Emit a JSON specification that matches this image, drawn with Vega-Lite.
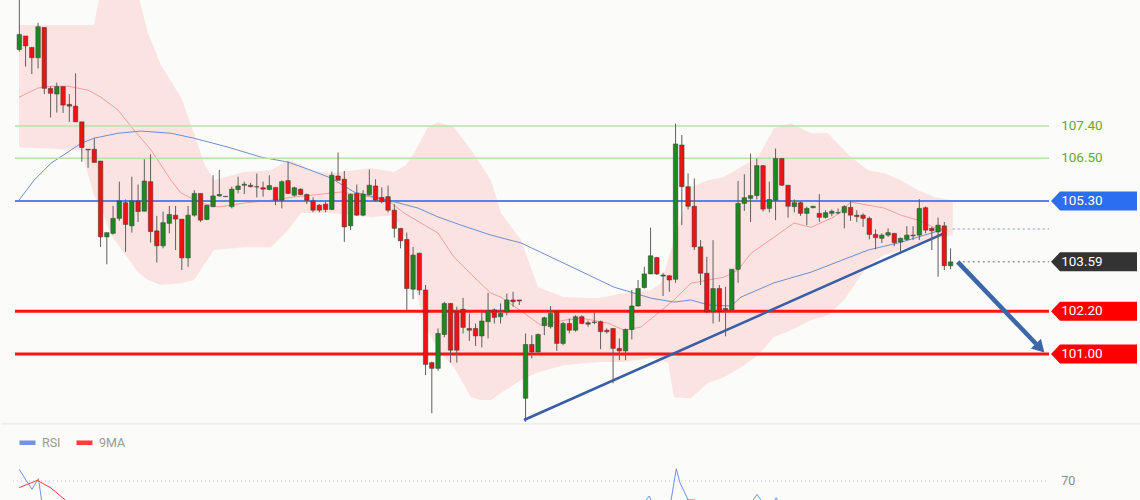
{
  "$schema": "https://vega.github.io/schema/vega-lite/v6.json",
  "background": "#fbfbf9",
  "padding": 0,
  "spacing": 0,
  "config": {"view": {"stroke": null}, "font": "Roboto", "axis": {"disable": true}},
  "resolve": {"scale": {"x": "independent", "y": "independent", "color": "independent"}},
  "datasets": {
    "candles": [
      {"i":1,"o":109.55,"h":110.94,"l":109.49,"c":109.97},
      {"i":2,"o":109.93,"h":109.93,"l":109.07,"c":109.65},
      {"i":3,"o":109.61,"h":109.61,"l":108.86,"c":109.32},
      {"i":4,"o":109.32,"h":110.30,"l":109.02,"c":110.19},
      {"i":5,"o":110.17,"h":110.17,"l":108.30,"c":108.46},
      {"i":6,"o":108.46,"h":108.52,"l":107.64,"c":108.32},
      {"i":7,"o":108.30,"h":108.62,"l":107.78,"c":108.51},
      {"i":8,"o":108.51,"h":108.51,"l":107.77,"c":107.99},
      {"i":9,"o":108.01,"h":108.30,"l":107.52,"c":107.96},
      {"i":10,"o":107.96,"h":108.88,"l":107.52,"c":107.52},
      {"i":11,"o":107.52,"h":107.52,"l":106.40,"c":106.80},
      {"i":12,"o":106.75,"h":106.76,"l":106.23,"c":106.73},
      {"i":13,"o":106.75,"h":107.05,"l":106.38,"c":106.38},
      {"i":14,"o":106.42,"h":106.42,"l":104.01,"c":104.29},
      {"i":15,"o":104.29,"h":104.41,"l":103.52,"c":104.41},
      {"i":16,"o":104.39,"h":105.16,"l":104.36,"c":104.81},
      {"i":17,"o":104.81,"h":105.84,"l":104.74,"c":105.30},
      {"i":18,"o":105.25,"h":105.34,"l":103.87,"c":104.64},
      {"i":19,"o":104.60,"h":105.98,"l":104.41,"c":105.30},
      {"i":20,"o":105.30,"h":105.76,"l":104.71,"c":105.00},
      {"i":21,"o":105.01,"h":106.47,"l":105.01,"c":105.86},
      {"i":22,"o":105.84,"h":106.61,"l":104.13,"c":104.44},
      {"i":23,"o":104.46,"h":104.88,"l":103.57,"c":104.04},
      {"i":24,"o":104.04,"h":105.00,"l":103.97,"c":104.69},
      {"i":25,"o":104.67,"h":105.16,"l":104.39,"c":104.92},
      {"i":26,"o":104.90,"h":105.16,"l":103.92,"c":104.79},
      {"i":27,"o":104.79,"h":104.79,"l":103.36,"c":103.70},
      {"i":28,"o":103.70,"h":105.16,"l":103.45,"c":104.90},
      {"i":29,"o":104.90,"h":105.60,"l":104.86,"c":105.51},
      {"i":30,"o":105.51,"h":105.51,"l":104.71,"c":104.76},
      {"i":31,"o":104.78,"h":105.18,"l":104.76,"c":105.18},
      {"i":32,"o":105.14,"h":106.02,"l":105.12,"c":105.44},
      {"i":33,"o":105.44,"h":106.17,"l":105.42,"c":105.48},
      {"i":34,"o":105.42,"h":105.44,"l":105.42,"c":105.43},
      {"i":35,"o":105.14,"h":105.70,"l":105.09,"c":105.63},
      {"i":36,"o":105.62,"h":105.98,"l":105.51,"c":105.72},
      {"i":37,"o":105.74,"h":105.84,"l":105.49,"c":105.77},
      {"i":38,"o":105.74,"h":105.81,"l":105.68,"c":105.70},
      {"i":39,"o":105.70,"h":106.07,"l":105.40,"c":105.69},
      {"i":40,"o":105.67,"h":105.84,"l":105.42,"c":105.63},
      {"i":41,"o":105.62,"h":106.02,"l":105.60,"c":105.73},
      {"i":42,"o":105.68,"h":105.68,"l":105.18,"c":105.32},
      {"i":43,"o":105.32,"h":105.88,"l":105.09,"c":105.84},
      {"i":44,"o":105.87,"h":106.40,"l":105.49,"c":105.51},
      {"i":45,"o":105.46,"h":105.70,"l":105.42,"c":105.67},
      {"i":46,"o":105.63,"h":105.65,"l":105.46,"c":105.48},
      {"i":47,"o":105.48,"h":105.51,"l":105.21,"c":105.32},
      {"i":48,"o":105.30,"h":105.40,"l":104.98,"c":105.04},
      {"i":49,"o":105.18,"h":105.21,"l":104.98,"c":105.04},
      {"i":50,"o":105.21,"h":105.28,"l":104.98,"c":105.06},
      {"i":51,"o":105.06,"h":106.12,"l":105.04,"c":106.02},
      {"i":52,"o":106.00,"h":106.66,"l":105.87,"c":105.88},
      {"i":53,"o":105.91,"h":106.14,"l":104.15,"c":104.57},
      {"i":54,"o":104.60,"h":105.51,"l":104.48,"c":105.48},
      {"i":55,"o":105.51,"h":105.76,"l":104.88,"c":104.90},
      {"i":56,"o":104.90,"h":105.60,"l":104.87,"c":105.49},
      {"i":57,"o":105.48,"h":106.18,"l":105.46,"c":105.74},
      {"i":58,"o":105.72,"h":105.91,"l":105.28,"c":105.32},
      {"i":59,"o":105.40,"h":105.68,"l":105.23,"c":105.28},
      {"i":60,"o":105.42,"h":105.73,"l":104.98,"c":105.04},
      {"i":61,"o":105.04,"h":105.21,"l":104.27,"c":104.53},
      {"i":62,"o":104.53,"h":104.53,"l":103.97,"c":104.18},
      {"i":63,"o":104.22,"h":104.41,"l":102.24,"c":102.84},
      {"i":64,"o":102.82,"h":104.01,"l":102.54,"c":103.78},
      {"i":65,"o":103.83,"h":103.85,"l":102.66,"c":102.80},
      {"i":66,"o":102.80,"h":102.94,"l":100.41,"c":100.71},
      {"i":67,"o":100.76,"h":100.79,"l":99.34,"c":100.60},
      {"i":68,"o":100.60,"h":101.72,"l":100.53,"c":101.58},
      {"i":69,"o":101.55,"h":102.47,"l":101.47,"c":102.42},
      {"i":70,"o":102.42,"h":102.44,"l":100.76,"c":101.11},
      {"i":71,"o":102.19,"h":102.33,"l":100.76,"c":101.11},
      {"i":72,"o":102.26,"h":102.58,"l":101.58,"c":101.75},
      {"i":73,"o":101.72,"h":102.14,"l":101.37,"c":101.67},
      {"i":74,"o":101.72,"h":101.86,"l":101.23,"c":101.51},
      {"i":75,"o":101.51,"h":102.19,"l":101.19,"c":101.93},
      {"i":76,"o":101.91,"h":102.72,"l":101.44,"c":102.22},
      {"i":77,"o":102.24,"h":102.28,"l":101.86,"c":102.03},
      {"i":78,"o":102.05,"h":102.42,"l":101.86,"c":102.14},
      {"i":79,"o":102.19,"h":102.70,"l":102.09,"c":102.52},
      {"i":80,"o":102.52,"h":102.75,"l":102.33,"c":102.47},
      {"i":81,"o":102.52,"h":102.52,"l":102.38,"c":102.49},
      {"i":82,"o":99.76,"h":101.58,"l":99.10,"c":101.27},
      {"i":83,"o":101.27,"h":101.53,"l":100.88,"c":101.06},
      {"i":84,"o":101.06,"h":101.58,"l":101.04,"c":101.55},
      {"i":85,"o":101.80,"h":102.05,"l":101.53,"c":102.02},
      {"i":86,"o":101.77,"h":102.35,"l":101.72,"c":102.14},
      {"i":87,"o":102.19,"h":102.24,"l":101.09,"c":101.30},
      {"i":88,"o":101.30,"h":101.91,"l":101.25,"c":101.86},
      {"i":89,"o":101.86,"h":102.00,"l":101.58,"c":101.67},
      {"i":90,"o":101.67,"h":102.09,"l":101.63,"c":102.05},
      {"i":91,"o":102.05,"h":102.09,"l":101.84,"c":101.86},
      {"i":92,"o":101.88,"h":101.94,"l":101.77,"c":101.84},
      {"i":93,"o":101.89,"h":102.17,"l":101.84,"c":101.90},
      {"i":94,"o":101.91,"h":101.94,"l":101.14,"c":101.63},
      {"i":95,"o":101.67,"h":101.72,"l":101.58,"c":101.63},
      {"i":96,"o":101.72,"h":101.72,"l":100.18,"c":101.16},
      {"i":97,"o":101.16,"h":101.44,"l":100.83,"c":101.09},
      {"i":98,"o":101.09,"h":101.72,"l":100.83,"c":101.69},
      {"i":99,"o":101.69,"h":102.80,"l":101.41,"c":102.35},
      {"i":100,"o":102.35,"h":103.08,"l":102.33,"c":102.84},
      {"i":101,"o":102.87,"h":103.45,"l":102.84,"c":103.25},
      {"i":102,"o":103.25,"h":104.55,"l":103.25,"c":103.76},
      {"i":103,"o":103.71,"h":103.73,"l":103.22,"c":103.25},
      {"i":104,"o":103.22,"h":103.28,"l":102.63,"c":103.19},
      {"i":105,"o":103.20,"h":103.22,"l":102.75,"c":103.08},
      {"i":106,"o":103.10,"h":107.47,"l":103.00,"c":106.90},
      {"i":107,"o":106.87,"h":107.15,"l":104.62,"c":105.70},
      {"i":108,"o":105.70,"h":106.07,"l":105.06,"c":105.15},
      {"i":109,"o":105.15,"h":105.93,"l":103.92,"c":104.01},
      {"i":110,"o":104.01,"h":104.20,"l":102.94,"c":103.27},
      {"i":111,"o":103.27,"h":103.73,"l":102.14,"c":102.19},
      {"i":112,"o":102.19,"h":104.20,"l":101.86,"c":102.84},
      {"i":113,"o":102.84,"h":102.94,"l":101.91,"c":102.19},
      {"i":114,"o":102.28,"h":102.89,"l":101.50,"c":102.24},
      {"i":115,"o":102.24,"h":103.38,"l":102.24,"c":103.38},
      {"i":116,"o":103.38,"h":105.86,"l":103.00,"c":105.23},
      {"i":117,"o":105.23,"h":106.05,"l":105.02,"c":105.39},
      {"i":118,"o":105.37,"h":106.63,"l":104.71,"c":105.45},
      {"i":119,"o":105.45,"h":106.49,"l":105.34,"c":106.29},
      {"i":120,"o":106.29,"h":106.31,"l":105.00,"c":105.07},
      {"i":121,"o":105.09,"h":105.84,"l":104.98,"c":105.34},
      {"i":122,"o":105.32,"h":106.77,"l":104.76,"c":106.49},
      {"i":123,"o":106.49,"h":106.49,"l":105.72,"c":105.74},
      {"i":124,"o":105.74,"h":105.74,"l":104.83,"c":105.15},
      {"i":125,"o":105.14,"h":105.34,"l":104.98,"c":105.25},
      {"i":126,"o":105.25,"h":105.28,"l":104.88,"c":104.95},
      {"i":127,"o":104.95,"h":105.14,"l":104.62,"c":105.09},
      {"i":128,"o":105.11,"h":105.16,"l":105.09,"c":105.15},
      {"i":129,"o":104.95,"h":105.49,"l":104.71,"c":104.84},
      {"i":130,"o":104.84,"h":105.04,"l":104.81,"c":104.97},
      {"i":131,"o":104.95,"h":105.06,"l":104.87,"c":105.01},
      {"i":132,"o":104.96,"h":105.09,"l":104.92,"c":104.97},
      {"i":133,"o":104.97,"h":105.18,"l":104.53,"c":105.14},
      {"i":134,"o":105.12,"h":105.30,"l":104.74,"c":104.90},
      {"i":135,"o":104.90,"h":105.04,"l":104.71,"c":104.86},
      {"i":136,"o":104.90,"h":104.95,"l":104.57,"c":104.81},
      {"i":137,"o":104.81,"h":104.86,"l":104.22,"c":104.36},
      {"i":138,"o":104.36,"h":104.50,"l":103.94,"c":104.27},
      {"i":139,"o":104.25,"h":104.39,"l":104.12,"c":104.34},
      {"i":140,"o":104.34,"h":104.53,"l":104.29,"c":104.41},
      {"i":141,"o":104.39,"h":104.39,"l":104.03,"c":104.13},
      {"i":142,"o":104.15,"h":104.27,"l":103.87,"c":104.25},
      {"i":143,"o":104.22,"h":104.59,"l":104.18,"c":104.34},
      {"i":144,"o":104.32,"h":104.59,"l":104.20,"c":104.34},
      {"i":145,"o":104.34,"h":105.35,"l":104.20,"c":105.09},
      {"i":146,"o":105.11,"h":105.14,"l":104.39,"c":104.48},
      {"i":147,"o":104.53,"h":104.57,"l":103.92,"c":104.46},
      {"i":148,"o":104.43,"h":104.83,"l":103.17,"c":104.62},
      {"i":149,"o":104.60,"h":104.71,"l":103.36,"c":103.48},
      {"i":150,"o":103.48,"h":103.97,"l":103.38,"c":103.59}
    ],
    "band": [
      {"i":0.95,"up":110.24,"lo":106.81},{"i":10.87,"up":110.24,"lo":106.73},{"i":12.95,"up":110.24,"lo":105.46},{"i":13.91,"up":111.08,"lo":105.18},
      {"i":15.67,"up":111.08,"lo":104.34},{"i":19.99,"up":111.08,"lo":103.30},{"i":21.59,"up":110.01,"lo":103.08},{"i":23.67,"up":109.11,"lo":102.94},
      {"i":26.87,"up":108.21,"lo":102.99},{"i":28.95,"up":107.20,"lo":103.08},{"i":30.55,"up":106.36,"lo":103.50},{"i":32.15,"up":105.88,"lo":103.92},
      {"i":36.95,"up":106.11,"lo":104.00},{"i":41.27,"up":106.16,"lo":104.00},{"i":43.99,"up":106.45,"lo":104.48},{"i":46.07,"up":106.31,"lo":104.96},
      {"i":47.67,"up":106.16,"lo":104.96},{"i":50.87,"up":106.08,"lo":104.96},{"i":57.27,"up":106.22,"lo":104.85},{"i":60.95,"up":106.11,"lo":104.90},
      {"i":62.87,"up":106.31,"lo":104.20},{"i":64.15,"up":106.64,"lo":103.08},{"i":65.27,"up":107.01,"lo":102.24},{"i":66.39,"up":107.37,"lo":101.67},
      {"i":67.99,"up":107.51,"lo":101.11},{"i":70.55,"up":107.37,"lo":100.63},{"i":73.27,"up":106.73,"lo":99.79},{"i":74.87,"up":106.31,"lo":99.71},
      {"i":76.47,"up":105.88,"lo":99.71},{"i":78.07,"up":104.96,"lo":99.91},{"i":81.27,"up":104.20,"lo":100.27},{"i":83.99,"up":102.88,"lo":100.49},
      {"i":88.15,"up":102.60,"lo":100.69},{"i":93.59,"up":102.57,"lo":100.78},{"i":97.75,"up":102.71,"lo":100.78},{"i":102.07,"up":102.80,"lo":100.89},
      {"i":103.67,"up":102.99,"lo":100.83},{"i":104.79,"up":103.64,"lo":100.75},{"i":105.75,"up":104.20,"lo":99.79},{"i":108.47,"up":105.69,"lo":99.76},
      {"i":111.19,"up":105.88,"lo":100.19},{"i":113.75,"up":105.97,"lo":100.35},{"i":116.47,"up":106.25,"lo":100.63},{"i":119.19,"up":106.53,"lo":100.97},
      {"i":121.75,"up":107.34,"lo":101.48},{"i":124.47,"up":107.48,"lo":101.67},{"i":127.67,"up":107.20,"lo":101.95},{"i":130.39,"up":107.20,"lo":102.09},
      {"i":132.95,"up":106.73,"lo":102.52},{"i":134.07,"up":106.53,"lo":102.80},{"i":136.79,"up":106.16,"lo":103.50},{"i":139.35,"up":106.08,"lo":103.78},
      {"i":142.07,"up":105.88,"lo":103.92},{"i":144.79,"up":105.60,"lo":104.06},{"i":147.35,"up":105.41,"lo":104.20},{"i":150.35,"up":105.32,"lo":104.34}
    ],
    "mid": [
      {"i":0.95,"m":108.21},{"i":3.99,"m":108.47},{"i":6.07,"m":108.52},{"i":8.79,"m":108.52},{"i":11.99,"m":108.41},{"i":14.07,"m":108.21},
      {"i":16.79,"m":107.85},{"i":19.35,"m":107.29},{"i":22.07,"m":106.73},{"i":25.27,"m":105.88},{"i":26.87,"m":105.52},{"i":30.07,"m":105.24},
      {"i":32.95,"m":105.13},{"i":36.95,"m":105.24},{"i":41.27,"m":105.32},{"i":44.95,"m":105.41},{"i":50.87,"m":105.52},{"i":52.47,"m":105.55},
      {"i":57.27,"m":105.41},{"i":59.99,"m":105.32},{"i":62.55,"m":104.96},{"i":65.27,"m":104.68},{"i":67.99,"m":104.40},{"i":70.55,"m":103.72},
      {"i":73.75,"m":103.16},{"i":76.47,"m":102.71},{"i":78.07,"m":102.60},{"i":81.75,"m":102.15},{"i":84.47,"m":101.81},{"i":88.15,"m":101.95},
      {"i":90.87,"m":102.01},{"i":95.19,"m":101.87},{"i":97.75,"m":101.67},{"i":100.47,"m":101.76},{"i":103.19,"m":102.15},{"i":105.75,"m":102.52},
      {"i":108.47,"m":102.99},{"i":113.75,"m":103.16},{"i":115.99,"m":103.36},{"i":118.07,"m":103.83},{"i":121.75,"m":104.28},{"i":124.95,"m":104.68},
      {"i":127.67,"m":104.56},{"i":131.35,"m":104.85},{"i":134.07,"m":105.27},{"i":136.79,"m":105.18},{"i":139.35,"m":105.10},{"i":142.07,"m":104.90},
      {"i":144.79,"m":104.76},{"i":147.35,"m":104.56},{"i":149.59,"m":104.48}
    ],
    "ma": [
      {"i":0.95,"v":105.32},{"i":3.35,"v":105.88},{"i":6.07,"v":106.36},{"i":8.79,"v":106.67},{"i":10.87,"v":106.92},{"i":12.95,"v":107.06},
      {"i":16.79,"v":107.20},{"i":20.47,"v":107.26},{"i":25.27,"v":107.20},{"i":28.95,"v":107.06},{"i":34.39,"v":106.81},{"i":39.67,"v":106.53},
      {"i":43.99,"v":106.39},{"i":47.67,"v":106.16},{"i":50.87,"v":105.94},{"i":54.55,"v":105.55},{"i":59.99,"v":105.32},{"i":64.79,"v":105.10},
      {"i":67.99,"v":104.85},{"i":71.67,"v":104.62},{"i":76.47,"v":104.34},{"i":81.27,"v":104.12},{"i":88.15,"v":103.55},{"i":96.15,"v":102.88},
      {"i":102.07,"v":102.57},{"i":105.75,"v":102.46},{"i":108.47,"v":102.52},{"i":111.19,"v":102.38},{"i":114.87,"v":102.35},{"i":116.47,"v":102.60},
      {"i":121.75,"v":103.00},{"i":127.67,"v":103.30},{"i":131.35,"v":103.55},{"i":136.79,"v":103.92},{"i":142.07,"v":104.14},{"i":147.35,"v":104.42},
      {"i":148.95,"v":104.51}
    ],
    "trend": [{"i":81.75,"p":99.15},{"i":149.3,"p":104.42}],
    "arrow": [{"i":151.14,"p":103.59},{"i":163.67,"p":101.29}],
    "arrowhead": [{"i":164.33,"p":101.17}],
    "levels": [
      {"level":107.40,"kind":"target"},
      {"level":106.50,"kind":"target"},
      {"level":105.30,"kind":"pivot"},
      {"level":103.59,"kind":"last"},
      {"level":102.20,"kind":"support"},
      {"level":101.00,"kind":"support"}
    ],
    "rsi": [
      {"i":0.98,"s":"RSI","v":84.0},{"i":3.02,"s":"RSI","v":60.0},{"i":4.06,"s":"RSI","v":72.8},{"i":4.58,"s":"RSI","v":46},{"i":5.11,"s":"RSI","v":22},
      {"i":14.07,"s":"RSI","v":35},{"i":46.07,"s":"RSI","v":40},{"i":78.07,"s":"RSI","v":38},{"i":100.47,"s":"RSI","v":34},{"i":101.18,"s":"RSI","v":46},
      {"i":101.77,"s":"RSI","v":52},{"i":102.17,"s":"RSI","v":46},{"i":102.87,"s":"RSI","v":36},{"i":104.47,"s":"RSI","v":38},{"i":105.26,"s":"RSI","v":46},
      {"i":106.12,"s":"RSI","v":84.8},{"i":106.70,"s":"RSI","v":68},{"i":107.87,"s":"RSI","v":49.6},{"i":108.47,"s":"RSI","v":40},{"i":117.27,"s":"RSI","v":38},
      {"i":118.33,"s":"RSI","v":46},{"i":119.02,"s":"RSI","v":54},{"i":119.77,"s":"RSI","v":46},{"i":120.63,"s":"RSI","v":40},{"i":121.8,"s":"RSI","v":46},
      {"i":122.1,"s":"RSI","v":50},{"i":122.39,"s":"RSI","v":46},{"i":123.19,"s":"RSI","v":38},{"i":142.07,"s":"RSI","v":38},{"i":150.07,"s":"RSI","v":35},
      {"i":0.98,"s":"9MA","v":62},{"i":3.88,"s":"9MA","v":70.8},{"i":6.07,"s":"9MA","v":61.6},{"i":8.54,"s":"9MA","v":46},{"i":10.07,"s":"9MA","v":28},
      {"i":40,"s":"9MA","v":35},{"i":80,"s":"9MA","v":36},{"i":104.0,"s":"9MA","v":37},{"i":106.87,"s":"9MA","v":40},{"i":107.87,"s":"9MA","v":47.2},
      {"i":109.03,"s":"9MA","v":47.2},{"i":110.07,"s":"9MA","v":40},{"i":130,"s":"9MA","v":40},{"i":150.07,"s":"9MA","v":38}
    ]
  },
  "vconcat": [
    {
      "width": 1140,
      "height": 425,
      "layer": [
        {
          "data": {"name": "band"},
          "mark": {"type": "area", "fill": "#fbcfcf", "fillOpacity": 0.55, "clip": true},
          "encoding": {
            "x": {"field": "i", "type": "quantitative", "scale": {"domain": [-1.93, 180.47], "nice": false, "zero": false, "padding": 0}, "axis": null},
            "y": {"field": "up", "type": "quantitative", "scale": {"domain": [99.01, 110.94], "nice": false, "zero": false, "padding": 0}, "axis": null},
            "y2": {"field": "lo"}
          }
        },
        {
          "data": {"name": "mid"},
          "mark": {"type": "line", "color": "#f2a0a0", "strokeWidth": 1, "clip": true},
          "encoding": {
            "x": {"field": "i", "type": "quantitative"},
            "y": {"field": "m", "type": "quantitative"}
          }
        },
        {
          "data": {"name": "ma"},
          "mark": {"type": "line", "color": "#6f8fcf", "strokeWidth": 1, "clip": true},
          "encoding": {
            "x": {"field": "i", "type": "quantitative"},
            "y": {"field": "v", "type": "quantitative"}
          }
        },
        {
          "data": {"name": "levels"},
          "transform": [{"filter": "datum.kind === 'target'"}],
          "mark": {"type": "rule", "color": "#bddfab", "strokeWidth": 1.5},
          "encoding": {
            "x": {"datum": 0.31, "type": "quantitative"},
            "x2": {"datum": 165.75},
            "y": {"field": "level", "type": "quantitative"}
          }
        },
        {
          "data": {"name": "levels"},
          "transform": [{"filter": "datum.kind === 'pivot'"}],
          "mark": {"type": "rule", "color": "#5484ee", "strokeWidth": 2},
          "encoding": {
            "x": {"datum": 0.31, "type": "quantitative"},
            "x2": {"datum": 165.75},
            "y": {"field": "level", "type": "quantitative"}
          }
        },
        {
          "data": {"name": "levels"},
          "transform": [{"filter": "datum.kind === 'support'"}],
          "mark": {"type": "rule", "color": "#ff1414", "strokeWidth": 3},
          "encoding": {
            "x": {"datum": 0.31, "type": "quantitative"},
            "x2": {"datum": 165.75},
            "y": {"field": "level", "type": "quantitative"}
          }
        },
        {
          "data": {"name": "levels"},
          "transform": [{"filter": "datum.kind === 'last'"}],
          "mark": {"type": "rule", "color": "#9a9a9a", "strokeWidth": 1.5, "strokeDash": [2, 3]},
          "encoding": {
            "x": {"datum": 151.95, "type": "quantitative"},
            "x2": {"datum": 165.75},
            "y": {"field": "level", "type": "quantitative"}
          }
        },
        {
          "data": {"values": [{"level": 104.51}]},
          "mark": {"type": "rule", "color": "#aab8dc", "strokeWidth": 1.5, "strokeDash": [2, 3]},
          "encoding": {
            "x": {"datum": 150.35, "type": "quantitative"},
            "x2": {"datum": 165.75},
            "y": {"field": "level", "type": "quantitative"}
          }
        },
        {
          "data": {"values": [{"level": 99.04}]},
          "mark": {"type": "rule", "color": "#e4e4e2", "strokeWidth": 1},
          "encoding": {
            "x": {"datum": -1.93, "type": "quantitative"},
            "x2": {"datum": 180.47},
            "y": {"field": "level", "type": "quantitative"}
          }
        },
        {
          "data": {"name": "trend"},
          "mark": {"type": "line", "color": "#3a5ea6", "strokeWidth": 2.5},
          "encoding": {
            "x": {"field": "i", "type": "quantitative"},
            "y": {"field": "p", "type": "quantitative"}
          }
        },
        {
          "data": {"name": "candles"},
          "mark": {"type": "rule", "color": "#5e5e5e", "strokeWidth": 1, "clip": true},
          "encoding": {
            "x": {"field": "i", "type": "quantitative"},
            "y": {"field": "l", "type": "quantitative"},
            "y2": {"field": "h"}
          }
        },
        {
          "data": {"name": "candles"},
          "mark": {"type": "bar", "size": 4.5, "stroke": "#3a3a3a", "strokeWidth": 0.5, "clip": true},
          "encoding": {
            "x": {"field": "i", "type": "quantitative"},
            "y": {"field": "o", "type": "quantitative"},
            "y2": {"field": "c"},
            "fill": {"condition": {"test": "datum.c >= datum.o", "value": "#1e881e"}, "value": "#ee1313"}
          }
        },
        {
          "data": {"name": "arrow"},
          "mark": {"type": "line", "color": "#3b67a8", "strokeWidth": 4.5, "strokeCap": "butt"},
          "encoding": {
            "x": {"field": "i", "type": "quantitative"},
            "y": {"field": "p", "type": "quantitative"}
          }
        },
        {
          "data": {"name": "arrowhead"},
          "mark": {"type": "point", "shape": "triangle-up", "angle": 136, "size": 200, "filled": true, "color": "#3b67a8", "opacity": 1},
          "encoding": {
            "x": {"field": "i", "type": "quantitative"},
            "y": {"field": "p", "type": "quantitative"}
          }
        },
        {
          "data": {"name": "levels"},
          "transform": [{"filter": "datum.kind === 'target'"}],
          "mark": {"type": "text", "align": "left", "baseline": "middle", "fontSize": 13.5, "color": "#67a83a"},
          "encoding": {
            "x": {"datum": 167.7, "type": "quantitative"},
            "y": {"field": "level", "type": "quantitative"},
            "text": {"field": "level", "type": "quantitative", "format": ".2f"}
          }
        },
        {
          "data": {"name": "levels"},
          "transform": [{"filter": "datum.kind !== 'target'"}],
          "mark": {"type": "point", "shape": "M-1,0L-0.791,-0.221L1,-0.221L1,0.221L-0.791,0.221Z", "size": 7396, "filled": true, "opacity": 1, "strokeWidth": 0},
          "encoding": {
            "x": {"datum": 172.95, "type": "quantitative"},
            "y": {"field": "level", "type": "quantitative"},
            "color": {"field": "kind", "type": "nominal", "scale": {"domain": ["pivot", "last", "support"], "range": ["#2c6ef0", "#333333", "#ff0000"]}, "legend": null}
          }
        },
        {
          "data": {"name": "levels"},
          "transform": [{"filter": "datum.kind !== 'target'"}],
          "mark": {"type": "text", "align": "left", "baseline": "middle", "fontSize": 13.5, "color": "#ffffff"},
          "encoding": {
            "x": {"datum": 167.7, "type": "quantitative"},
            "y": {"field": "level", "type": "quantitative"},
            "text": {"field": "level", "type": "quantitative", "format": ".2f"}
          }
        }
      ]
    },
    {
      "width": 1140,
      "height": 75,
      "layer": [
        {
          "data": {"values": [{"level": 70}]},
          "mark": {"type": "rule", "color": "#c4c4c4", "strokeWidth": 1, "strokeDash": [1, 3]},
          "encoding": {
            "x": {"datum": 0.0, "type": "quantitative", "scale": {"domain": [-1.93, 180.47], "nice": false, "zero": false, "padding": 0}, "axis": null},
            "x2": {"datum": 165.6},
            "y": {"field": "level", "type": "quantitative", "scale": {"domain": [46, 136], "nice": false, "zero": false, "padding": 0}, "axis": null}
          }
        },
        {
          "data": {"values": [{"level": 70}]},
          "mark": {"type": "text", "align": "left", "baseline": "middle", "fontSize": 12.5, "color": "#8a8a8a"},
          "encoding": {
            "x": {"datum": 167.7, "type": "quantitative"},
            "y": {"field": "level", "type": "quantitative"},
            "text": {"field": "level", "type": "quantitative"}
          }
        },
        {
          "data": {"name": "rsi"},
          "mark": {"type": "line", "strokeWidth": 1, "clip": true},
          "encoding": {
            "x": {"field": "i", "type": "quantitative"},
            "y": {"field": "v", "type": "quantitative"},
            "color": {
              "field": "s", "type": "nominal",
              "scale": {"domain": ["RSI", "9MA"], "range": ["#6f93e8", "#ff3b3b"]},
              "legend": {"orient": "none", "legendX": 16, "legendY": 6, "direction": "horizontal", "title": null,
                "symbolType": "stroke", "symbolStrokeWidth": 4.5, "symbolSize": 256, "labelFontSize": 12.5, "labelColor": "#9a9a9a",
                "labelOffset": 4, "columnPadding": 6, "padding": 0}
            }
          }
        }
      ]
    }
  ]
}
